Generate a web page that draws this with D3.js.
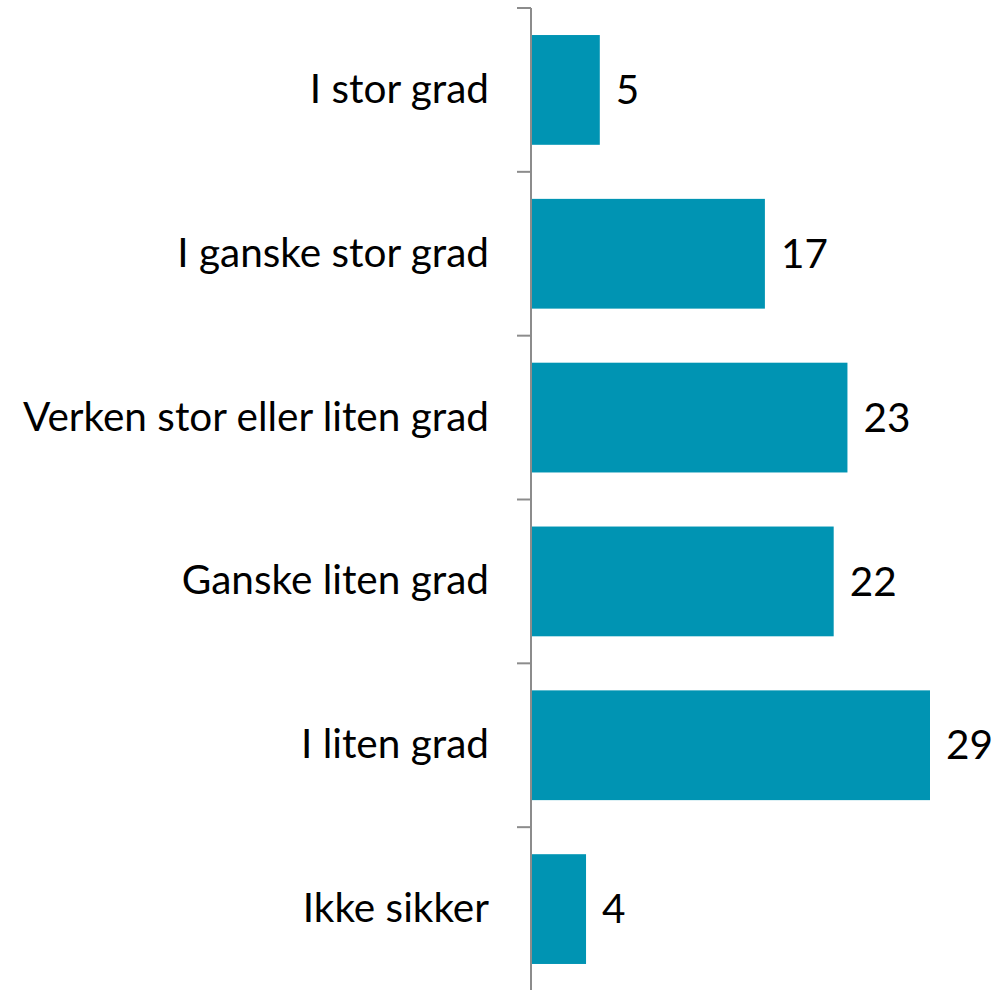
<!DOCTYPE html>
<html>
<head>
<meta charset="utf-8">
<script src="https://cdn.jsdelivr.net/npm/d3@7"></script>
<style>
  body { margin: 0; background: #fff; }
  text { font-family: 'Lato', sans-serif; fill: #000; }
</style>
</head>
<body>
<div id="canvas"></div>
<script>
// data
const categories = [
  'I stor grad',
  'I ganske stor grad',
  'Verken stor eller liten grad',
  'Ganske liten grad',
  'I liten grad',
  'Ikke sikker'
];
const values = [5, 17, 23, 22, 29, 4];

const svgWidth = 1000,
  svgHeight = 990;
const margin = { top: 8, right: 70, bottom: -1, left: 531 };
const width = svgWidth - margin.left - margin.right,
  height = svgHeight - margin.top - margin.bottom;

const svg = d3.select('#canvas').append('svg')
  .attr('width', svgWidth)
  .attr('height', svgHeight);

const g = svg.append('g')
  .attr('transform', `translate(${margin.left}, ${margin.top})`);

const xScale = d3.scaleLinear()
  .domain([0, 29])
  .range([0, 399]);

const yScale = d3.scaleBand()
  .domain(categories)
  .range([0, height])
  .paddingInner(0.33)
  .paddingOuter(0.165);

// left axis
const leftAxis = g.append('g')
  .call(d3.axisLeft(yScale).tickSize(0).tickPadding(42));
leftAxis.select('.domain').remove();
leftAxis.selectAll('text')
  .style('font-size', '40.5px')
  .style('font-family', "'Lato', sans-serif");

// axis line and ticks between categories
g.append('line')
  .attr('x1', 0).attr('x2', 0)
  .attr('y1', 0).attr('y2', height)
  .attr('stroke', '#8c8c8c')
  .attr('stroke-width', 2);

const step = yScale.step();
const tickYs = d3.range(categories.length + 1).map((i) => i * step);
g.selectAll('.sep')
  .data(tickYs)
  .enter()
  .append('line')
  .attr('class', 'sep')
  .attr('x1', -14).attr('x2', 0)
  .attr('y1', (d) => d).attr('y2', (d) => d)
  .attr('stroke', '#8c8c8c')
  .attr('stroke-width', 2);

// bars
g.selectAll('rect')
  .data(values)
  .enter()
  .append('rect')
  .attr('x', 1)
  .attr('y', (d, i) => yScale(categories[i]))
  .attr('width', (d) => xScale(d) - 1)
  .attr('height', yScale.bandwidth())
  .attr('fill', '#0094b3');

// value labels
g.selectAll('.val')
  .data(values)
  .enter()
  .append('text')
  .attr('class', 'val')
  .attr('x', (d) => xScale(d) + 16)
  .attr('y', (d, i) => yScale(categories[i]) + yScale.bandwidth() / 2)
  .attr('dy', '0.35em')
  .style('font-size', '40.5px')
  .text((d) => d);
</script>
</body>
</html>
